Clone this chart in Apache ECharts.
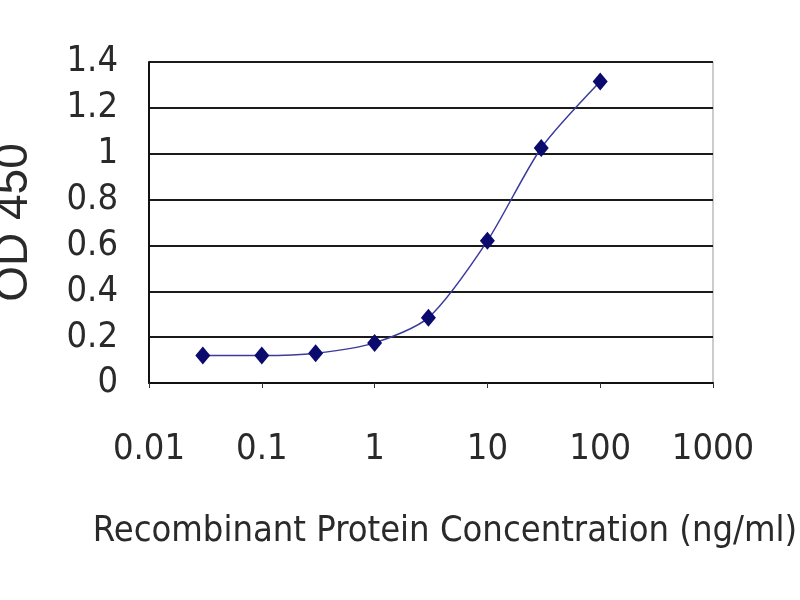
<!DOCTYPE html>
<html>
<head>
<meta charset="utf-8">
<script src="https://cdn.jsdelivr.net/npm/echarts@6/dist/echarts.min.js"></script>
<style>html,body{margin:0;padding:0;background:#fff;}#c{width:800px;height:600px;}</style>
</head>
<body>
<div id="c"></div>
<script>
const concentrations = [0.03, 0.1, 0.3, 1, 3, 10, 30, 100];
const od450 = [0.12, 0.12, 0.13, 0.175, 0.285, 0.62, 1.025, 1.315];
const xTickLabels = ['0.01', '0.1', '1', '10', '100', '1000'];
const yTickLabels = ['0', '0.2', '0.4', '0.6', '0.8', '1', '1.2', '1.4'];
const xTitle = 'Recombinant Protein Concentration (ng/ml)';
const yTitle = 'OD 450';

function hasFont(name) {
  const ctx = document.createElement('canvas').getContext('2d');
  const t = 'Recombinant Protein 0.01';
  ctx.font = '40px monospace';
  const a = ctx.measureText(t).width;
  ctx.font = '40px "' + name + '", monospace';
  const b = ctx.measureText(t).width;
  return Math.abs(a - b) > 0.5;
}
const narrowCandidates = ['Liberation Sans Narrow', 'DejaVu Sans Condensed', 'Roboto Condensed', 'Open Sans Condensed'];
let family = 'Liberation Sans';
for (const f of narrowCandidates) { if (hasFont(f)) { family = f; break; } }
function widthAt(text, fam, size) {
  const ctx = document.createElement('canvas').getContext('2d');
  ctx.font = size + 'px "' + fam + '"';
  return ctx.measureText(text).width;
}
let fs = Math.round(40 * 712 / widthAt(xTitle, family, 40));
fs = Math.min(fs, 46);

const data = concentrations.map((c, i) => [c, od450[i]]);
const chart = echarts.init(document.getElementById('c'));
chart.setOption({
  backgroundColor: '#ffffff',
  animation: false,
  grid: { left: 149, right: 87, top: 62, bottom: 217, containLabel: false, outerBoundsMode: 'none', show: true, borderColor: '#999', borderWidth: 1, backgroundColor: 'transparent' },
  xAxis: {
    type: 'log', logBase: 10, min: 0.01, max: 1000,
    name: xTitle, nameLocation: 'middle', nameGap: 131,
    nameTextStyle: { fontFamily: family, fontSize: fs, color: '#2a2a2a', padding: [0, 0, 0, 28] },
    axisLine: { show: true, lineStyle: { color: '#111', width: 2 } },
    axisTick: { show: true, length: 5, lineStyle: { color: '#333' } },
    minorTick: { show: false },
    splitLine: { show: false },
    axisLabel: {
      margin: 49, fontFamily: family, fontSize: fs, color: '#2a2a2a',
      formatter: function (v) {
        const k = Math.round(Math.log10(v)) + 2;
        return xTickLabels[k] !== undefined ? xTickLabels[k] : '';
      }
    }
  },
  yAxis: {
    type: 'value', min: 0, max: 1.4, interval: 0.2,
    name: yTitle, nameLocation: 'middle', nameGap: 112,
    nameTextStyle: { fontFamily: 'Liberation Sans', fontSize: 46, color: '#2a2a2a' },
    axisLine: { show: true, lineStyle: { color: '#111', width: 2 } },
    axisTick: { show: false },
    splitLine: { show: true, lineStyle: { color: '#1a1a1a', width: 2 } },
    axisLabel: {
      margin: 31, fontFamily: family, fontSize: fs, color: '#2a2a2a',
      formatter: function (v) { return yTickLabels[Math.round(v / 0.2)]; }
    }
  },
  series: [{
    type: 'line', data: data, smooth: 0.25,
    symbol: 'diamond', symbolSize: [15, 18],
    lineStyle: { color: '#3b3b9e', width: 1.5 },
    itemStyle: { color: '#0b0b6e' }
  }]
});
</script>
</body>
</html>
